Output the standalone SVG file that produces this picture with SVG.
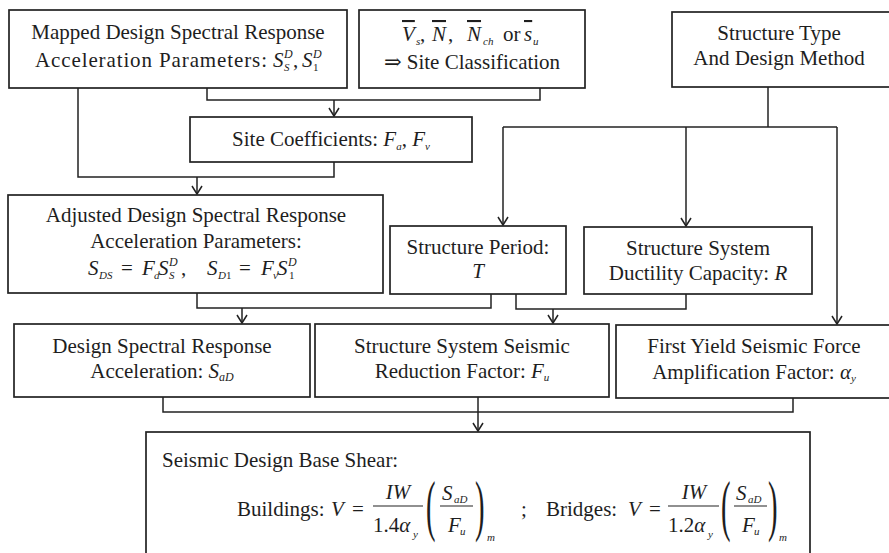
<svg xmlns="http://www.w3.org/2000/svg" width="889" height="553" viewBox="0 0 889 553">
<style>
.box{fill:#fff;stroke:#222;stroke-width:1.7}
.t{font-family:"Liberation Serif","DejaVu Serif",serif;font-size:21px;fill:#1e1e1e}
.c{text-anchor:middle}
.i{font-style:italic}
.s{font-size:12px}
.xs{font-size:11px}
.p{font-size:68px}
.ln{fill:none;stroke:#222;stroke-width:1.5}
.fr{fill:none;stroke:#222;stroke-width:1.2}
.ov{text-decoration:overline}
</style>
<defs>
<marker id="ah" viewBox="-10 -6 12 12" refX="0" refY="0" markerWidth="12" markerHeight="12" markerUnits="userSpaceOnUse" orient="auto">
<path d="M-8,-5 L0,0 L-8,5" fill="none" stroke="#222" stroke-width="1.5"/>
</marker>
</defs>
<rect width="889" height="553" fill="#fff"/>

<g id="connectors" class="ln">
<polyline points="207,88 207,100 540,100 540,88"/>
<line x1="334" y1="100" x2="334" y2="116" marker-end="url(#ah)"/>
<polyline points="78,88 78,177 334,177 334,162"/>
<line x1="197" y1="177" x2="197" y2="194" marker-end="url(#ah)"/>
<line x1="768" y1="87" x2="768" y2="127"/>
<line x1="503" y1="127" x2="837" y2="127"/>
<line x1="503" y1="127" x2="503" y2="225" marker-end="url(#ah)"/>
<line x1="686" y1="127" x2="686" y2="226" marker-end="url(#ah)"/>
<line x1="837" y1="127" x2="837" y2="324" marker-end="url(#ah)"/>
<polyline points="197,293 197,308 491,308 491,294"/>
<line x1="242" y1="308" x2="242" y2="323" marker-end="url(#ah)"/>
<polyline points="516,294 516,309 686,309 686,294"/>
<line x1="553" y1="309" x2="553" y2="323" marker-end="url(#ah)"/>
<polyline points="163,397 163,412 793,412 793,398"/>
<line x1="478" y1="397" x2="478" y2="431" marker-end="url(#ah)"/>
</g>

<g id="mapped">
<rect class="box" x="9" y="10" width="338" height="78"/>
<text class="t c" x="178" y="39">Mapped Design Spectral Response</text>
<text class="t" x="35" y="67" textLength="232" lengthAdjust="spacing">Acceleration Parameters:</text>
<text class="t i" x="273" y="67">S</text>
<text class="t i s" x="284" y="58">D</text>
<text class="t i xs" x="284" y="71">S</text>
<text class="t" x="293" y="67">,</text>
<text class="t i" x="302" y="67">S</text>
<text class="t i s" x="313" y="58">D</text>
<text class="t xs" x="313" y="71">1</text>
</g>

<g id="site-class">
<rect class="box" x="359" y="10" width="226" height="78"/>
<text class="t i ov" x="402" y="41">V</text>
<text class="t i xs" x="416" y="45">s</text>
<text class="t" x="420" y="41">,</text>
<text class="t i ov" x="432" y="41">N</text>
<text class="t" x="448" y="41">,</text>
<text class="t i ov" x="467" y="41">N</text>
<text class="t i xs" x="483" y="45">ch</text>
<text class="t" x="503" y="41">or</text>
<text class="t i ov" x="524" y="41">s</text>
<text class="t i xs" x="533" y="45">u</text>
<text class="t c" x="472" y="69">⇒ Site Classification</text>
</g>

<g id="structure-type">
<rect class="box" x="672" y="12" width="222" height="75"/>
<text class="t c" x="779" y="40">Structure Type</text>
<text class="t c" x="779" y="65">And Design Method</text>
</g>

<g id="site-coef">
<rect class="box" x="190" y="117" width="282" height="45"/>
<text class="t c" x="331" y="146">Site Coefficients: <tspan class="i">F</tspan><tspan class="i xs" dy="4">a</tspan><tspan dy="-4">, </tspan><tspan class="i">F</tspan><tspan class="i xs" dy="4">v</tspan></text>
</g>

<g id="adjusted">
<rect class="box" x="8" y="195" width="375" height="98"/>
<text class="t c" x="196" y="222">Adjusted Design Spectral Response</text>
<text class="t c" x="196" y="248">Acceleration Parameters:</text>
<text class="t i" x="88" y="275">S</text>
<text class="t i xs" x="99" y="279">DS</text>
<text class="t" x="121" y="275">=</text>
<text class="t i" x="142" y="275">F</text>
<text class="t i xs" x="154" y="279">a</text>
<text class="t i" x="158" y="275">S</text>
<text class="t i s" x="169" y="266">D</text>
<text class="t i xs" x="169" y="279">S</text>
<text class="t" x="181" y="275">,</text>
<text class="t i" x="207" y="275">S</text>
<text class="t i xs" x="218" y="279">D</text>
<text class="t xs" x="226" y="279">1</text>
<text class="t" x="239" y="275">=</text>
<text class="t i" x="261" y="275">F</text>
<text class="t i xs" x="273" y="279">v</text>
<text class="t i" x="277" y="275">S</text>
<text class="t i s" x="288" y="266">D</text>
<text class="t xs" x="289" y="279">1</text>
</g>

<g id="period">
<rect class="box" x="390" y="226" width="176" height="68"/>
<text class="t c" x="478" y="254">Structure Period:</text>
<text class="t c i" x="478" y="278">T</text>
</g>

<g id="ductility">
<rect class="box" x="584" y="227" width="228" height="67"/>
<text class="t c" x="698" y="255">Structure System</text>
<text class="t c" x="698" y="280">Ductility Capacity: <tspan class="i">R</tspan></text>
</g>

<g id="design-accel">
<rect class="box" x="14" y="324" width="296" height="73"/>
<text class="t c" x="162" y="353">Design Spectral Response</text>
<text class="t c" x="162" y="378">Acceleration: <tspan class="i">S</tspan><tspan class="i s" dy="3">aD</tspan></text>
</g>

<g id="reduction">
<rect class="box" x="315" y="324" width="294" height="73"/>
<text class="t c" x="462" y="353">Structure System Seismic</text>
<text class="t c" x="462" y="378">Reduction Factor: <tspan class="i">F</tspan><tspan class="i xs" dy="3">u</tspan></text>
</g>

<g id="first-yield">
<rect class="box" x="616" y="325" width="280" height="73"/>
<text class="t c" x="754" y="353">First Yield Seismic Force</text>
<text class="t c" x="754" y="379">Amplification Factor: <tspan class="i">α</tspan><tspan class="i xs" dy="3">y</tspan></text>
</g>

<g id="base-shear">
<rect class="box" x="146" y="432" width="664" height="130"/>
<text class="t" x="162" y="467">Seismic Design Base Shear:</text>
<text class="t" x="237" y="516">Buildings:</text>
<text class="t i" x="331" y="516">V</text>
<text class="t" x="352" y="516">=</text>
<text class="t i c" x="398" y="499">IW</text>
<line class="fr" x1="373" y1="506" x2="423" y2="506"/>
<text class="t" x="373" y="532">1.4<tspan class="i">α</tspan></text>
<text class="t i xs" x="413" y="538">y</text>
<text class="t p" transform="translate(426,528) scale(0.42,1)">(</text>
<text class="t i" x="442" y="500">S</text>
<text class="t i xs" x="454" y="503">aD</text>
<line class="fr" x1="440" y1="506" x2="473" y2="506"/>
<text class="t i" x="448" y="532">F</text>
<text class="t i xs" x="460" y="535">u</text>
<text class="t p" transform="translate(475,528) scale(0.42,1)">)</text>
<text class="t i xs" x="487" y="541">m</text>
<text class="t" x="521" y="516">;</text>
<text class="t" x="546" y="516">Bridges:</text>
<text class="t i" x="628" y="516">V</text>
<text class="t" x="649" y="516">=</text>
<text class="t i c" x="694" y="499">IW</text>
<line class="fr" x1="668" y1="506" x2="719" y2="506"/>
<text class="t" x="668" y="532">1.2<tspan class="i">α</tspan></text>
<text class="t i xs" x="708" y="538">y</text>
<text class="t p" transform="translate(721,528) scale(0.42,1)">(</text>
<text class="t i" x="736" y="500">S</text>
<text class="t i xs" x="748" y="503">aD</text>
<line class="fr" x1="734" y1="506" x2="767" y2="506"/>
<text class="t i" x="742" y="532">F</text>
<text class="t i xs" x="754" y="535">u</text>
<text class="t p" transform="translate(768,528) scale(0.42,1)">)</text>
<text class="t i xs" x="779" y="541">m</text>
</g>
</svg>
